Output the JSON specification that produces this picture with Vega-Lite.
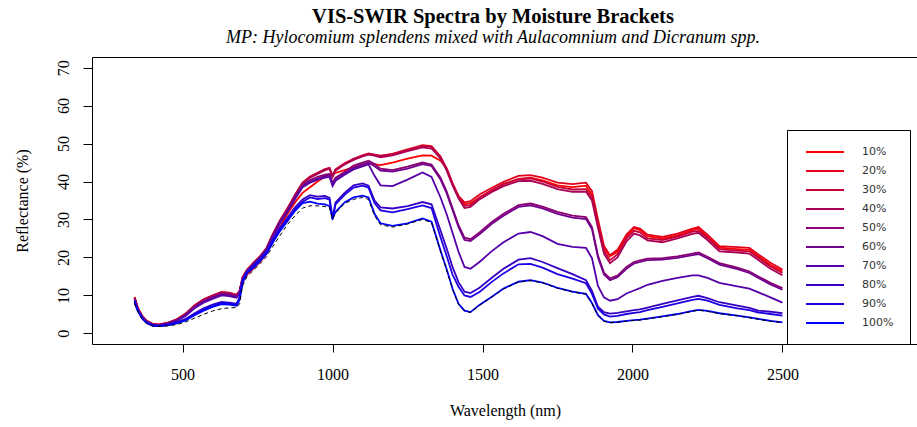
{
  "$schema": "https://vega.github.io/schema/vega-lite/v6.json",
  "width": 826,
  "height": 287,
  "autosize": "none",
  "padding": {"left": 92, "top": 57, "right": 0, "bottom": 83},
  "background": "white",
  "title": {
    "text": "VIS-SWIR Spectra by Moisture Brackets",
    "subtitle": "MP: Hylocomium splendens mixed with Aulacomnium and Dicranum spp.",
    "font": "Liberation Serif", "fontSize": 20.5, "fontWeight": "bold", "color": "black",
    "subtitleFont": "Liberation Serif", "subtitleFontSize": 18, "subtitleFontStyle": "italic", "subtitleColor": "black",
    "offset": 10, "subtitlePadding": 2, "anchor": "middle", "dx": -12
  },
  "config": {
    "view": {"stroke": "black", "strokeWidth": 1},
    "axis": {
      "grid": false, "domain": false, "tickColor": "black", "tickWidth": 1,
      "labelFont": "Liberation Serif", "labelFontSize": 16, "labelColor": "black",
      "titleFont": "Liberation Serif", "titleFontSize": 16, "titleFontWeight": "normal", "titleColor": "black"
    }
  },
  "data": {"values": [
    {"w":340,"m10":9.6,"m20":9.5,"m30":9.4,"m40":9.3,"m50":9.2,"m60":9.0,"m70":8.8,"m80":8.6,"m90":8.3,"m100":8.1,"dash":7.9},
    {"w":350,"m10":6.9,"m20":6.8,"m30":6.8,"m40":6.7,"m50":6.6,"m60":6.5,"m70":6.4,"m80":6.3,"m90":6.2,"m100":6.0,"dash":5.9},
    {"w":365,"m10":4.6,"m20":4.6,"m30":4.5,"m40":4.5,"m50":4.4,"m60":4.3,"m70":4.2,"m80":4.1,"m90":4.0,"m100":3.9,"dash":3.8},
    {"w":380,"m10":3.3,"m20":3.3,"m30":3.2,"m40":3.2,"m50":3.1,"m60":3.1,"m70":3.0,"m80":2.9,"m90":2.8,"m100":2.7,"dash":2.6},
    {"w":400,"m10":2.5,"m20":2.5,"m30":2.4,"m40":2.4,"m50":2.4,"m60":2.3,"m70":2.3,"m80":2.2,"m90":2.1,"m100":2.0,"dash":2.0},
    {"w":420,"m10":2.3,"m20":2.3,"m30":2.3,"m40":2.2,"m50":2.2,"m60":2.2,"m70":2.1,"m80":2.0,"m90":1.9,"m100":1.9,"dash":1.8},
    {"w":450,"m10":2.7,"m20":2.8,"m30":2.7,"m40":2.7,"m50":2.6,"m60":2.6,"m70":2.5,"m80":2.3,"m90":2.2,"m100":2.1,"dash":2.0},
    {"w":480,"m10":3.6,"m20":3.7,"m30":3.6,"m40":3.5,"m50":3.5,"m60":3.4,"m70":3.3,"m80":2.9,"m90":2.8,"m100":2.6,"dash":2.3},
    {"w":510,"m10":5.0,"m20":5.2,"m30":5.1,"m40":5.0,"m50":4.9,"m60":4.8,"m70":4.6,"m80":3.8,"m90":3.6,"m100":3.4,"dash":3.0},
    {"w":540,"m10":7.2,"m20":7.4,"m30":7.3,"m40":7.2,"m50":7.0,"m60":6.9,"m70":6.6,"m80":5.3,"m90":5.0,"m100":4.8,"dash":4.0},
    {"w":570,"m10":8.8,"m20":9.0,"m30":8.9,"m40":8.8,"m50":8.6,"m60":8.4,"m70":8.1,"m80":6.6,"m90":6.3,"m100":6.0,"dash":5.0},
    {"w":600,"m10":9.8,"m20":10.0,"m30":9.9,"m40":9.8,"m50":9.6,"m60":9.4,"m70":9.1,"m80":7.6,"m90":7.3,"m100":7.0,"dash":5.9},
    {"w":630,"m10":10.7,"m20":10.9,"m30":10.8,"m40":10.7,"m50":10.5,"m60":10.3,"m70":10.0,"m80":8.3,"m90":8.0,"m100":7.7,"dash":6.5},
    {"w":655,"m10":10.5,"m20":10.7,"m30":10.6,"m40":10.5,"m50":10.3,"m60":10.1,"m70":9.8,"m80":8.1,"m90":7.9,"m100":7.6,"dash":6.7},
    {"w":680,"m10":10.0,"m20":10.2,"m30":10.1,"m40":10.0,"m50":9.8,"m60":9.6,"m70":9.4,"m80":7.8,"m90":7.6,"m100":7.3,"dash":6.8},
    {"w":690,"m10":10.5,"m20":11.2,"m30":11.1,"m40":11.0,"m50":10.9,"m60":10.7,"m70":10.5,"m80":9.5,"m90":9.2,"m100":8.8,"dash":7.8},
    {"w":700,"m10":13.5,"m20":14.8,"m30":14.7,"m40":14.6,"m50":14.5,"m60":14.3,"m70":14.2,"m80":13.8,"m90":13.6,"m100":13.4,"dash":12.5},
    {"w":715,"m10":15.5,"m20":16.8,"m30":16.7,"m40":16.6,"m50":16.5,"m60":16.4,"m70":16.3,"m80":16.3,"m90":16.1,"m100":15.9,"dash":15.0},
    {"w":735,"m10":17.0,"m20":18.5,"m30":18.4,"m40":18.3,"m50":18.2,"m60":18.1,"m70":18.0,"m80":17.8,"m90":17.5,"m100":17.2,"dash":16.5},
    {"w":760,"m10":19.0,"m20":20.5,"m30":20.4,"m40":20.3,"m50":20.2,"m60":20.1,"m70":20.0,"m80":19.8,"m90":19.5,"m100":19.2,"dash":18.5},
    {"w":780,"m10":21.0,"m20":22.5,"m30":22.4,"m40":22.3,"m50":22.2,"m60":22.1,"m70":22.0,"m80":21.6,"m90":21.3,"m100":21.0,"dash":20.2},
    {"w":800,"m10":24.0,"m20":26.0,"m30":25.9,"m40":25.8,"m50":25.6,"m60":25.5,"m70":25.3,"m80":24.6,"m90":24.2,"m100":23.8,"dash":22.8},
    {"w":825,"m10":28.0,"m20":29.8,"m30":29.7,"m40":29.6,"m50":29.4,"m60":29.2,"m70":29.0,"m80":27.8,"m90":27.4,"m100":27.0,"dash":25.8},
    {"w":850,"m10":31.5,"m20":33.0,"m30":32.9,"m40":32.8,"m50":32.5,"m60":32.3,"m70":32.0,"m80":30.5,"m90":30.0,"m100":29.6,"dash":28.7},
    {"w":875,"m10":34.5,"m20":36.5,"m30":36.4,"m40":36.3,"m50":36.0,"m60":35.7,"m70":35.4,"m80":33.2,"m90":32.7,"m100":32.3,"dash":31.0},
    {"w":900,"m10":37.0,"m20":39.7,"m30":39.6,"m40":39.5,"m50":39.2,"m60":38.8,"m70":38.5,"m80":35.3,"m90":34.7,"m100":34.3,"dash":33.0},
    {"w":925,"m10":38.5,"m20":41.3,"m30":41.2,"m40":41.0,"m50":40.4,"m60":40.0,"m70":39.7,"m80":36.4,"m90":35.8,"m100":34.7,"dash":33.6},
    {"w":950,"m10":40.0,"m20":42.3,"m30":42.2,"m40":42.0,"m50":41.2,"m60":40.8,"m70":40.5,"m80":36.0,"m90":35.4,"m100":34.2,"dash":33.6},
    {"w":975,"m10":41.3,"m20":43.3,"m30":43.2,"m40":43.0,"m50":41.8,"m60":41.4,"m70":41.0,"m80":36.2,"m90":35.6,"m100":34.0,"dash":33.4},
    {"w":990,"m10":41.8,"m20":43.6,"m30":43.5,"m40":43.3,"m50":42.0,"m60":41.6,"m70":41.2,"m80":35.7,"m90":35.2,"m100":33.5,"dash":33.2},
    {"w":1000,"m10":42.0,"m20":41.5,"m30":41.4,"m40":41.2,"m50":39.7,"m60":39.3,"m70":38.8,"m80":30.5,"m90":30.0,"m100":30.3,"dash":30.0},
    {"w":1010,"m10":42.3,"m20":43.2,"m30":43.1,"m40":42.9,"m50":41.0,"m60":40.6,"m70":40.2,"m80":34.5,"m90":34.0,"m100":32.0,"dash":31.7},
    {"w":1040,"m10":43.0,"m20":44.8,"m30":44.7,"m40":44.5,"m50":42.5,"m60":42.1,"m70":41.8,"m80":37.0,"m90":36.5,"m100":34.5,"dash":34.2},
    {"w":1070,"m10":43.7,"m20":46.0,"m30":45.9,"m40":45.7,"m50":44.2,"m60":43.6,"m70":43.2,"m80":39.0,"m90":38.4,"m100":35.8,"dash":35.3},
    {"w":1100,"m10":44.4,"m20":46.9,"m30":46.8,"m40":46.6,"m50":45.0,"m60":44.5,"m70":44.0,"m80":39.5,"m90":38.9,"m100":36.3,"dash":35.8},
    {"w":1120,"m10":44.8,"m20":47.4,"m30":47.3,"m40":47.1,"m50":45.5,"m60":45.0,"m70":44.5,"m80":38.9,"m90":38.4,"m100":35.8,"dash":35.3},
    {"w":1140,"m10":44.6,"m20":47.1,"m30":47.0,"m40":46.8,"m50":44.6,"m60":44.0,"m70":41.5,"m80":35.0,"m90":34.3,"m100":31.5,"dash":31.0},
    {"w":1160,"m10":44.3,"m20":46.8,"m30":46.7,"m40":46.4,"m50":43.4,"m60":42.9,"m70":39.0,"m80":33.2,"m90":32.4,"m100":29.0,"dash":28.6},
    {"w":1200,"m10":45.0,"m20":47.3,"m30":47.2,"m40":46.9,"m50":43.0,"m60":42.6,"m70":38.8,"m80":32.9,"m90":31.9,"m100":28.3,"dash":28.0},
    {"w":1250,"m10":46.0,"m20":48.5,"m30":48.3,"m40":48.0,"m50":43.9,"m60":43.4,"m70":40.5,"m80":33.5,"m90":32.7,"m100":29.0,"dash":28.8},
    {"w":1300,"m10":46.9,"m20":49.6,"m30":49.4,"m40":49.0,"m50":45.0,"m60":44.6,"m70":42.4,"m80":34.6,"m90":33.7,"m100":30.3,"dash":30.0},
    {"w":1330,"m10":46.8,"m20":49.3,"m30":49.1,"m40":48.7,"m50":44.5,"m60":44.1,"m70":41.2,"m80":34.0,"m90":33.0,"m100":29.4,"dash":29.2},
    {"w":1360,"m10":45.5,"m20":46.6,"m30":46.4,"m40":46.0,"m50":41.0,"m60":40.5,"m70":35.8,"m80":27.1,"m90":25.3,"m100":21.8,"dash":21.6},
    {"w":1380,"m10":43.5,"m20":43.5,"m30":43.3,"m40":43.0,"m50":37.5,"m60":37.0,"m70":31.5,"m80":22.5,"m90":20.5,"m100":17.0,"dash":16.8},
    {"w":1400,"m10":39.5,"m20":39.5,"m30":39.3,"m40":39.0,"m50":33.0,"m60":32.5,"m70":26.5,"m80":17.5,"m90":15.5,"m100":11.8,"dash":11.6},
    {"w":1420,"m10":36.0,"m20":36.2,"m30":35.9,"m40":35.6,"m50":28.5,"m60":28.0,"m70":21.5,"m80":13.5,"m90":12.3,"m100":7.8,"dash":7.6},
    {"w":1440,"m10":34.0,"m20":34.5,"m30":33.6,"m40":33.0,"m50":25.2,"m60":24.6,"m70":17.5,"m80":11.0,"m90":10.0,"m100":6.0,"dash":5.9},
    {"w":1460,"m10":34.3,"m20":34.8,"m30":33.8,"m40":33.3,"m50":24.8,"m60":24.3,"m70":17.0,"m80":10.6,"m90":9.6,"m100":5.6,"dash":5.5},
    {"w":1490,"m10":35.8,"m20":36.6,"m30":35.8,"m40":35.3,"m50":26.6,"m60":26.1,"m70":18.8,"m80":12.0,"m90":10.9,"m100":7.5,"dash":7.4},
    {"w":1530,"m10":37.6,"m20":38.3,"m30":37.7,"m40":37.2,"m50":29.3,"m60":28.8,"m70":21.6,"m80":14.6,"m90":13.5,"m100":9.6,"dash":9.5},
    {"w":1570,"m10":39.3,"m20":39.9,"m30":39.3,"m40":38.8,"m50":31.5,"m60":31.0,"m70":24.0,"m80":17.0,"m90":15.8,"m100":11.8,"dash":11.7},
    {"w":1620,"m10":40.7,"m20":41.5,"m30":40.6,"m40":40.1,"m50":33.8,"m60":33.3,"m70":26.3,"m80":19.4,"m90":18.2,"m100":13.6,"dash":13.5},
    {"w":1660,"m10":41.0,"m20":41.7,"m30":40.8,"m40":40.2,"m50":34.2,"m60":33.7,"m70":26.7,"m80":19.8,"m90":18.3,"m100":14.0,"dash":13.9},
    {"w":1700,"m10":40.3,"m20":41.0,"m30":40.0,"m40":39.4,"m50":33.4,"m60":32.9,"m70":25.6,"m80":18.8,"m90":17.3,"m100":13.4,"dash":13.3},
    {"w":1750,"m10":39.0,"m20":39.7,"m30":38.6,"m40":38.0,"m50":32.0,"m60":31.5,"m70":23.6,"m80":17.2,"m90":15.6,"m100":12.0,"dash":11.9},
    {"w":1800,"m10":38.5,"m20":39.3,"m30":37.9,"m40":37.3,"m50":31.0,"m60":30.5,"m70":22.8,"m80":15.6,"m90":14.4,"m100":11.0,"dash":10.9},
    {"w":1845,"m10":38.9,"m20":39.7,"m30":38.0,"m40":37.3,"m50":30.6,"m60":30.1,"m70":22.5,"m80":14.0,"m90":13.2,"m100":10.4,"dash":10.3},
    {"w":1865,"m10":36.5,"m20":37.5,"m30":35.8,"m40":35.0,"m50":28.0,"m60":27.5,"m70":19.8,"m80":11.2,"m90":10.4,"m100":8.0,"dash":7.9},
    {"w":1885,"m10":29.0,"m20":30.0,"m30":28.5,"m40":27.8,"m50":20.5,"m60":20.0,"m70":12.5,"m80":7.0,"m90":6.5,"m100":4.8,"dash":4.7},
    {"w":1905,"m10":22.5,"m20":23.0,"m30":21.8,"m40":21.0,"m50":16.0,"m60":15.5,"m70":9.5,"m80":5.6,"m90":5.0,"m100":3.3,"dash":3.2},
    {"w":1925,"m10":20.3,"m20":20.6,"m30":19.3,"m40":18.5,"m50":14.5,"m60":14.0,"m70":8.6,"m80":5.2,"m90":4.4,"m100":2.9,"dash":2.8},
    {"w":1950,"m10":21.5,"m20":22.0,"m30":20.8,"m40":20.0,"m50":15.2,"m60":14.8,"m70":9.0,"m80":5.4,"m90":4.6,"m100":3.0,"dash":2.9},
    {"w":1980,"m10":25.5,"m20":26.0,"m30":25.0,"m40":24.2,"m50":17.5,"m60":17.0,"m70":10.5,"m80":5.8,"m90":5.1,"m100":3.3,"dash":3.2},
    {"w":2005,"m10":27.7,"m20":28.0,"m30":27.0,"m40":26.3,"m50":18.8,"m60":18.4,"m70":11.3,"m80":6.1,"m90":5.4,"m100":3.5,"dash":3.4},
    {"w":2025,"m10":27.2,"m20":27.6,"m30":26.6,"m40":25.8,"m50":19.2,"m60":18.8,"m70":11.9,"m80":6.3,"m90":5.6,"m100":3.6,"dash":3.5},
    {"w":2050,"m10":25.6,"m20":26.0,"m30":25.0,"m40":24.5,"m50":19.7,"m60":19.3,"m70":12.8,"m80":6.8,"m90":6.1,"m100":3.9,"dash":3.8},
    {"w":2100,"m10":25.0,"m20":25.4,"m30":24.6,"m40":24.0,"m50":19.8,"m60":19.4,"m70":13.8,"m80":7.8,"m90":7.0,"m100":4.5,"dash":4.4},
    {"w":2150,"m10":25.8,"m20":26.3,"m30":25.5,"m40":25.0,"m50":20.3,"m60":19.9,"m70":14.6,"m80":8.7,"m90":7.9,"m100":5.1,"dash":5.0},
    {"w":2200,"m10":27.2,"m20":27.6,"m30":26.8,"m40":26.2,"m50":21.0,"m60":20.6,"m70":15.3,"m80":9.6,"m90":8.8,"m100":5.9,"dash":5.8},
    {"w":2220,"m10":27.6,"m20":28.0,"m30":27.0,"m40":26.5,"m50":21.3,"m60":20.9,"m70":15.3,"m80":9.9,"m90":9.1,"m100":6.2,"dash":6.1},
    {"w":2250,"m10":25.5,"m20":26.0,"m30":25.2,"m40":24.6,"m50":20.2,"m60":19.8,"m70":14.6,"m80":9.3,"m90":8.6,"m100":5.9,"dash":5.8},
    {"w":2290,"m10":22.6,"m20":23.0,"m30":22.2,"m40":21.6,"m50":18.5,"m60":18.1,"m70":13.3,"m80":8.2,"m90":7.5,"m100":5.3,"dash":5.2},
    {"w":2350,"m10":22.2,"m20":22.7,"m30":21.8,"m40":21.3,"m50":17.3,"m60":16.9,"m70":12.4,"m80":7.3,"m90":6.6,"m100":4.7,"dash":4.6},
    {"w":2390,"m10":22.0,"m20":22.5,"m30":21.6,"m40":21.0,"m50":16.3,"m60":15.9,"m70":11.8,"m80":6.7,"m90":6.1,"m100":4.2,"dash":4.1},
    {"w":2420,"m10":20.3,"m20":20.8,"m30":19.9,"m40":19.3,"m50":15.0,"m60":14.6,"m70":10.8,"m80":6.0,"m90":5.5,"m100":3.8,"dash":3.7},
    {"w":2460,"m10":18.0,"m20":18.6,"m30":17.6,"m40":17.0,"m50":13.3,"m60":12.9,"m70":9.5,"m80":5.7,"m90":5.1,"m100":3.3,"dash":3.2},
    {"w":2500,"m10":16.3,"m20":16.8,"m30":15.9,"m40":15.3,"m50":11.9,"m60":11.5,"m70":8.1,"m80":5.3,"m90":4.7,"m100":2.9,"dash":2.8}
  ]},
  "layer": [
    {
      "transform": [{"fold": ["m10","m20","m30","m40","m50","m60","m70","m80","m90","m100"], "as": ["moisture","refl"]}],
      "mark": {"type": "line", "strokeWidth": 1.8, "clip": true},
      "encoding": {
        "x": {"field": "w", "type": "quantitative",
              "scale": {"domain": [198, 2952], "nice": false, "zero": false},
              "axis": {"values": [500,1000,1500,2000,2500], "format": "d", "title": "Wavelength (nm)", "tickSize": 8, "labelPadding": 14, "titlePadding": 20}},
        "y": {"field": "refl", "type": "quantitative",
              "scale": {"domain": [-2.8, 72.8], "nice": false, "zero": false},
              "axis": {"values": [0,10,20,30,40,50,60,70], "format": "d", "title": "Reflectance (%)", "tickSize": 9, "labelAngle": -90, "labelAlign": "center", "labelBaseline": "alphabetic", "labelPadding": 15, "titlePadding": 25}},
        "color": {"field": "moisture", "type": "nominal",
                  "scale": {"domain": ["m10","m20","m30","m40","m50","m60","m70","m80","m90","m100"],
                            "range": ["#FF0000","#E2001C","#C60038","#AA0055","#8D0071","#71008D","#5500AA","#3800C6","#1C00E2","#0000FF"]},
                  "legend": {"orient": "none", "legendX": 695, "legendY": 73, "title": null,
                             "symbolType": "M-3.8,0H3.8", "symbolSize": 100, "symbolStrokeWidth": 2, "symbolOffset": 16,
                             "labelFont": "DejaVu Sans", "labelFontSize": 11, "labelColor": "#333333", "labelOffset": 31,
                             "rowPadding": 8, "padding": 16, "strokeColor": "black", "fillColor": "white",
                             "labelExpr": "replace(datum.label, 'm', '') + '%          '"}}
      }
    },
    {
      "mark": {"type": "line", "strokeDash": [4, 3], "color": "black", "strokeWidth": 1, "clip": true},
      "encoding": {
        "x": {"field": "w", "type": "quantitative"},
        "y": {"field": "dash", "type": "quantitative"}
      }
    }
  ]
}
